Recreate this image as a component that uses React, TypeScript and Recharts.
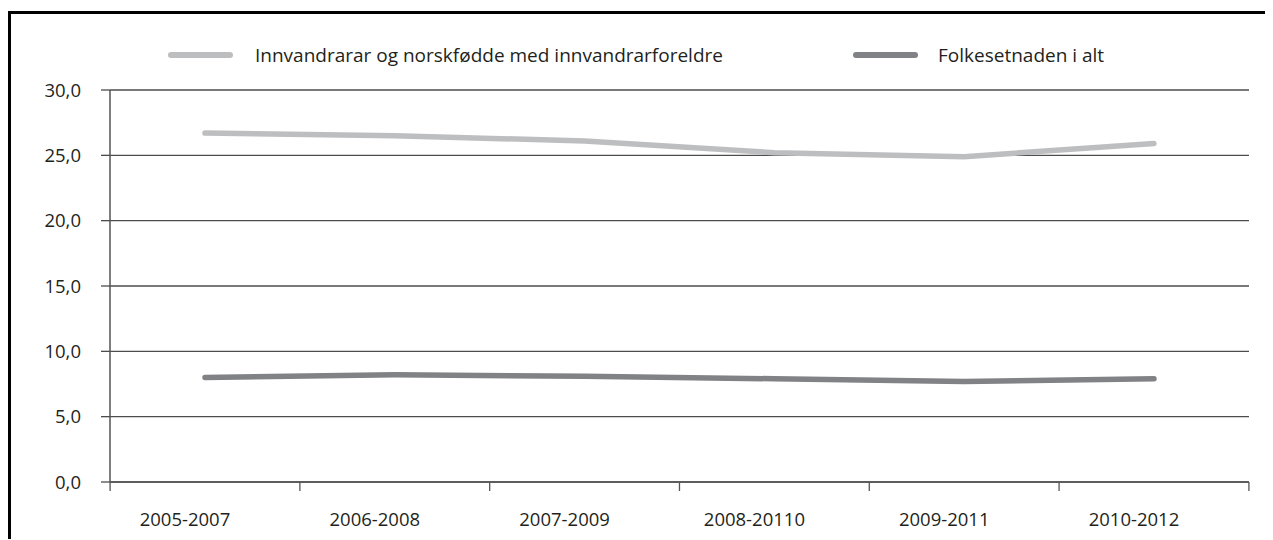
import React from 'react';
import {
  LineChart,
  Line,
  XAxis,
  YAxis,
  CartesianGrid,
  Legend,
} from 'recharts';

const periods = ['2005-2007', '2006-2008', '2007-2009', '2008-20110', '2009-2011', '2010-2012'];
const innvandrarar = [26.7, 26.5, 26.1, 25.2, 24.9, 25.9];
const folkesetnaden = [8.0, 8.2, 8.1, 7.9, 7.7, 7.9];
const yTicks = [0, 5, 10, 15, 20, 25, 30];

const seriesNames = ['Innvandrarar og norskfødde med innvandrarforeldre', 'Folkesetnaden i alt'];
const LIGHT = '#bcbec0';
const DARK = '#808285';
const TEXT = '#231f20';
const FONT = '"Open Sans", sans-serif';

const data = periods.map((p, i) => ({
  period: p,
  innv: innvandrarar[i],
  folk: folkesetnaden[i],
}));

const fmt = (v: number) => v.toFixed(1).replace('.', ',');

// boundary ticks between categories, label shifted a bit left like the original
const PeriodTick = (props: any) => {
  const { x, y, width, index, payload } = props;
  const band = width / periods.length;
  const left = x - band / 2;
  const axisY = y - 8;
  return (
    <g>
      <line x1={left} x2={left} y1={axisY} y2={axisY + 9} stroke="#555" strokeWidth={1.3} />
      {index === periods.length - 1 && (
        <line x1={x + band / 2} x2={x + band / 2} y1={axisY} y2={axisY + 9} stroke="#555" strokeWidth={1.3} />
      )}
      <text
        x={x - 20}
        y={axisY + 36}
        textAnchor="middle"
        dominantBaseline="central"
        fill={TEXT}
        fontSize={18.5}
        fontFamily={FONT}
      >
        {payload.value}
      </text>
    </g>
  );
};

const LegendContent = () => (
  <div style={{ position: 'relative', height: 26, width: 1262, fontFamily: FONT, fontSize: 19, color: TEXT }}>
    <div style={{ position: 'absolute', left: 157, top: 10, width: 65, height: 6, borderRadius: 3, background: LIGHT }} />
    <div style={{ position: 'absolute', left: 244, top: 0, lineHeight: '26px', whiteSpace: 'nowrap' }}>{seriesNames[0]}</div>
    <div style={{ position: 'absolute', left: 842, top: 10, width: 65, height: 6, borderRadius: 3, background: DARK }} />
    <div style={{ position: 'absolute', left: 927, top: 0, lineHeight: '26px', whiteSpace: 'nowrap' }}>{seriesNames[1]}</div>
  </div>
);

export default function App() {
  return (
    <div
      style={{
        marginTop: 3,
        borderTop: '3px solid #000',
        borderLeft: '3px solid #000',
        width: 1262,
        height: 525,
        background: '#fff',
      }}
    >
      <LineChart width={1262} height={525} data={data} margin={{ top: 76, right: 24, left: 0, bottom: 0 }}>
        <CartesianGrid vertical={false} stroke="#4d4d4d" strokeWidth={1.3} />
        <XAxis
          dataKey="period"
          height={57}
          padding={{ left: 95, right: 95 }}
          axisLine={{ stroke: '#555', strokeWidth: 1.5 }}
          tickLine={false}
          tickSize={8}
          tickMargin={0}
          tick={<PeriodTick />}
          interval={0}
        />
        <YAxis
          width={99}
          domain={[0, 30]}
          ticks={yTicks}
          tickFormatter={fmt}
          axisLine={{ stroke: '#555', strokeWidth: 1.5 }}
          tickLine={{ stroke: '#4d4d4d', strokeWidth: 1.3 }}
          tickSize={9}
          tickMargin={20}
          tick={{ fill: TEXT, fontSize: 18.5, fontFamily: FONT }}
        />
        <Legend
          verticalAlign="middle"
          align="center"
          layout="horizontal"
          wrapperStyle={{ top: 28, left: 0, width: 1262 }}
          content={<LegendContent />}
        />
        <Line
          type="linear"
          dataKey="innv"
          name={seriesNames[0]}
          stroke={LIGHT}
          strokeWidth={5.5}
          strokeLinecap="round"
          dot={false}
          activeDot={false}
          isAnimationActive={false}
        />
        <Line
          type="linear"
          dataKey="folk"
          name={seriesNames[1]}
          stroke={DARK}
          strokeWidth={5.5}
          strokeLinecap="round"
          dot={false}
          activeDot={false}
          isAnimationActive={false}
        />
      </LineChart>
    </div>
  );
}
